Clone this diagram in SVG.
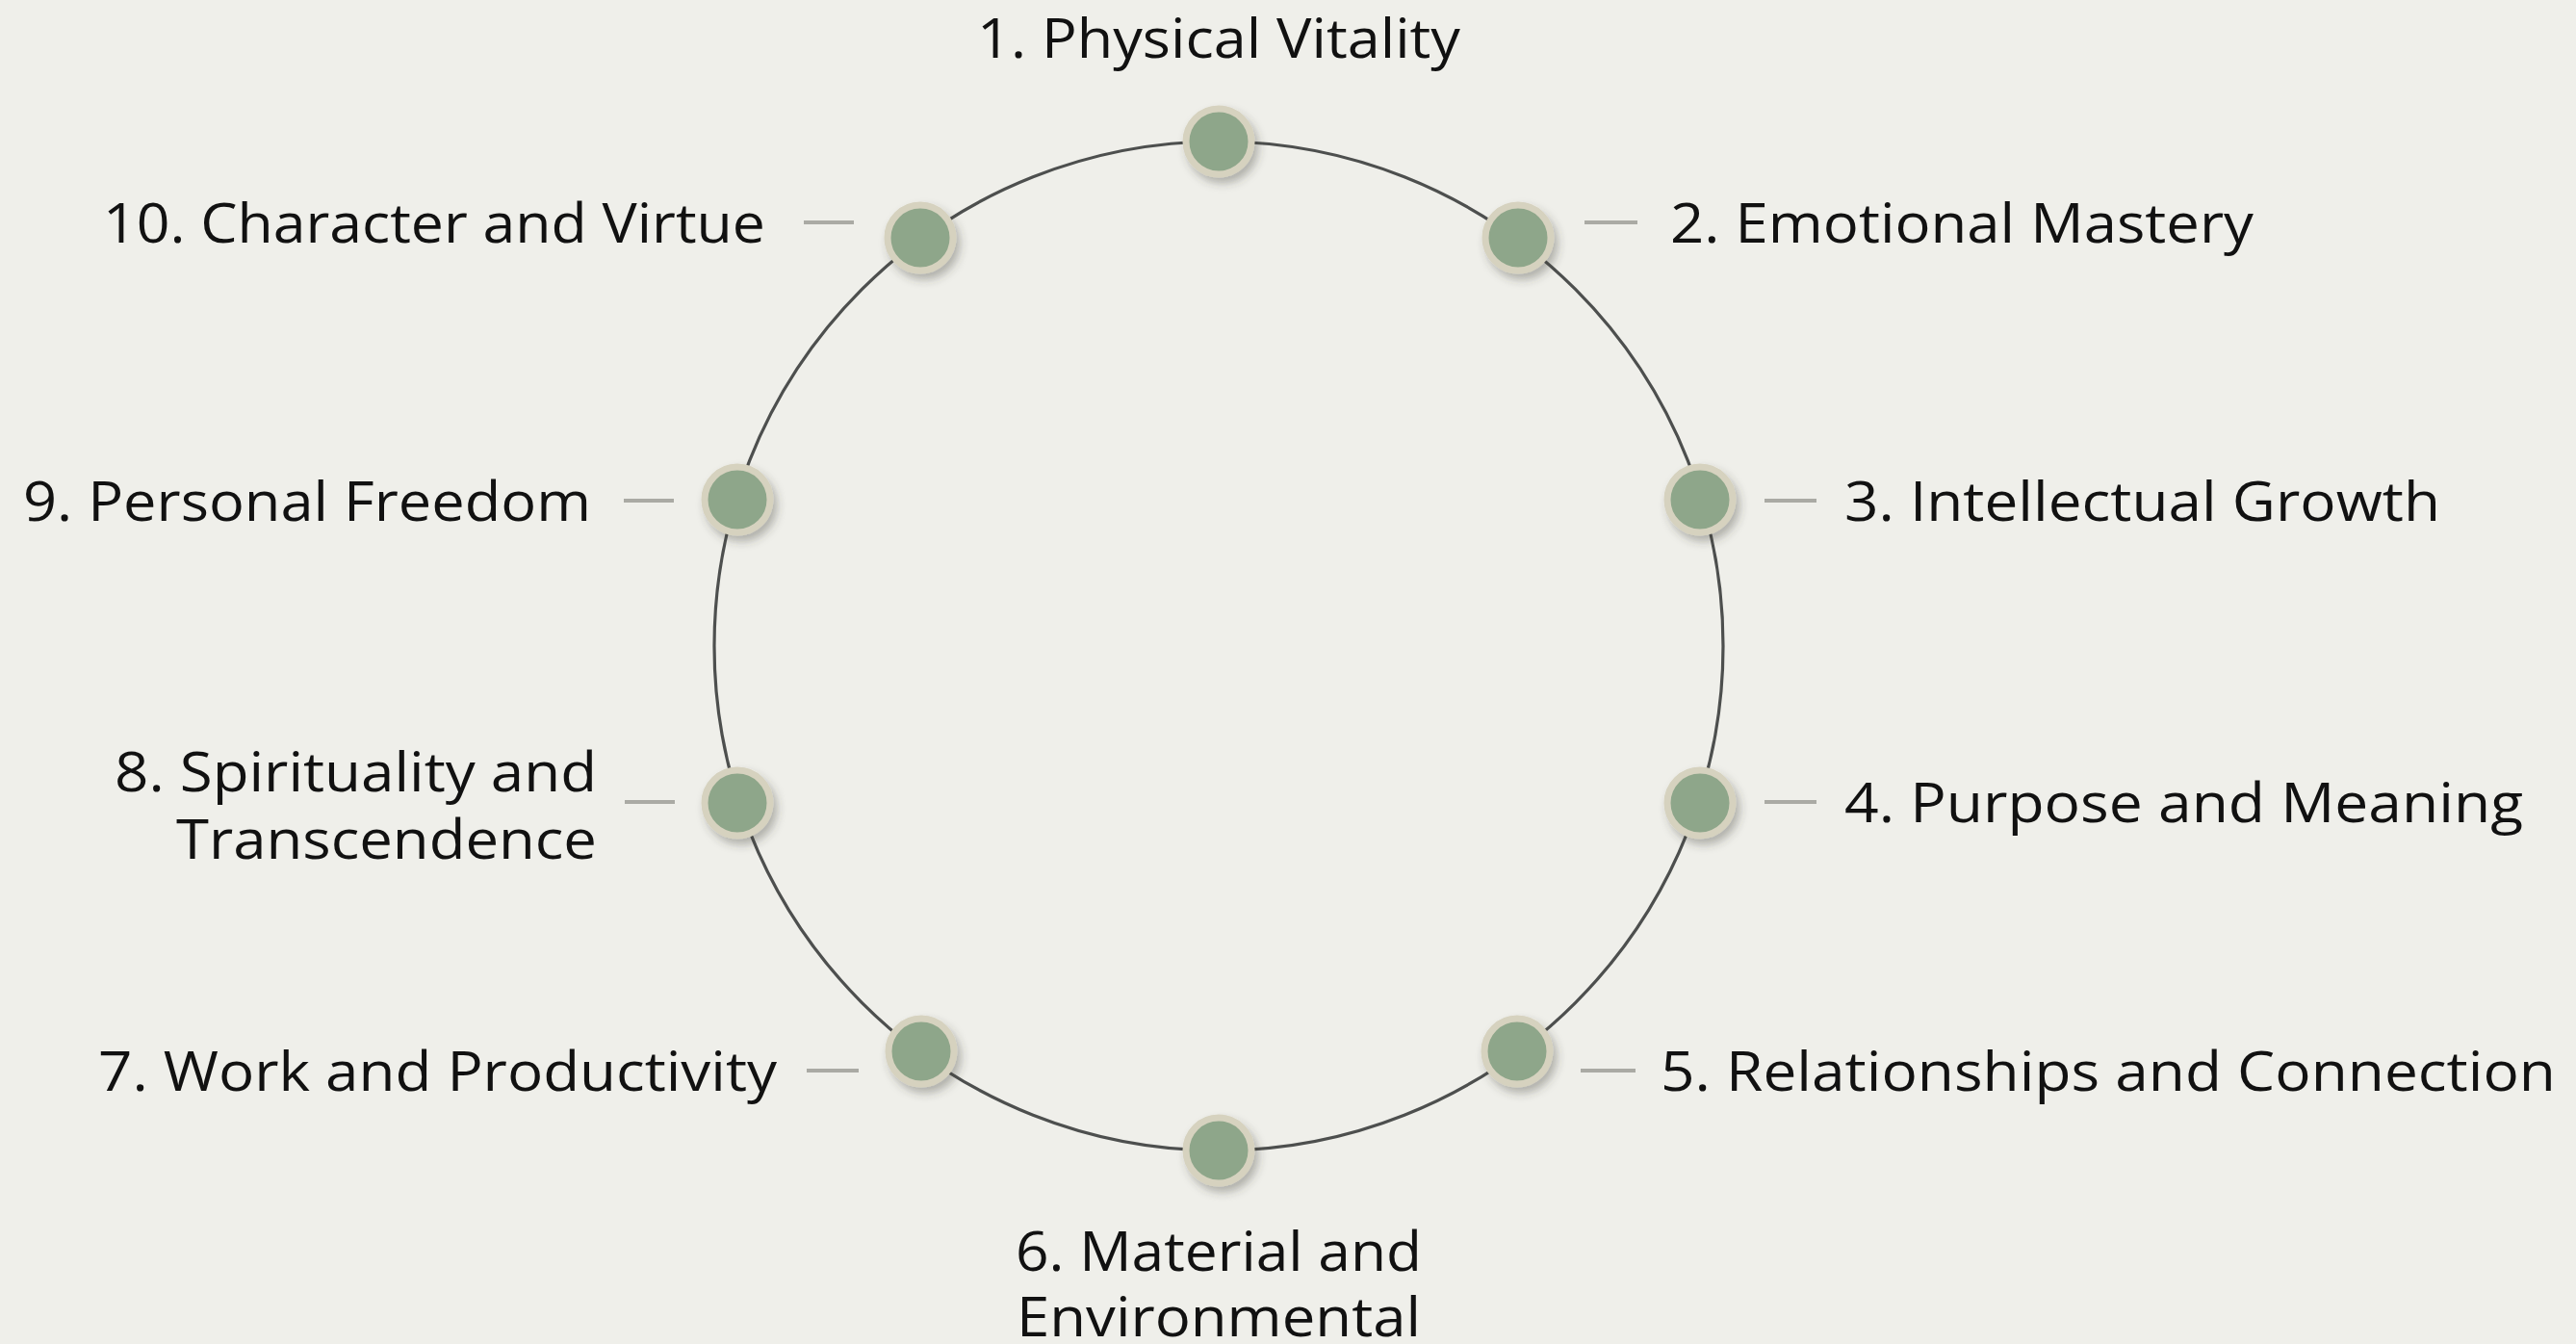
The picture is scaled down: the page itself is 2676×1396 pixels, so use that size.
<svg xmlns="http://www.w3.org/2000/svg" width="2676" height="1396" viewBox="0 0 2676 1396">
  <style>
    .lbl { font-family: "Open Sans", "Liberation Sans", sans-serif; font-size: 56px; font-weight: 500; fill: #111111; }
    .tick { stroke: #aaaaa4; stroke-width: 4; stroke-linecap: butt; }
    .ring { fill: none; stroke: #4d4f4e; stroke-width: 3.2; }
    .dot { fill: #8ea68a; stroke: #d6d2bf; stroke-width: 7; filter: url(#sh); }
  </style>
  <defs>
    <filter id="sh" x="-50%" y="-50%" width="200%" height="200%">
      <feDropShadow dx="4" dy="6" stdDeviation="5" flood-color="#3a3a30" flood-opacity="0.35"/>
    </filter>
  </defs>
  <rect x="0" y="0" width="2676" height="1396" fill="#efefea"/>

  <g id="connectors">
    <circle class="ring" cx="1266" cy="671" r="524"/>
    <line class="tick" x1="1646" y1="231" x2="1701" y2="231"/>
    <line class="tick" x1="1833" y1="520" x2="1887" y2="520"/>
    <line class="tick" x1="1833" y1="833" x2="1887" y2="833"/>
    <line class="tick" x1="1642" y1="1112" x2="1699" y2="1112"/>
    <line class="tick" x1="838" y1="1112" x2="892" y2="1112"/>
    <line class="tick" x1="649" y1="833" x2="701" y2="833"/>
    <line class="tick" x1="648" y1="520" x2="700" y2="520"/>
    <line class="tick" x1="835" y1="231" x2="887" y2="231"/>
  </g>

  <g id="n1">
    <circle class="dot" cx="1266" cy="147" r="34"/>
    <text class="lbl" x="1266" y="60" text-anchor="middle" textLength="502" lengthAdjust="spacingAndGlyphs">1. Physical Vitality</text>
  </g>
  <g id="n2">
    <circle class="dot" cx="1577" cy="247" r="34"/>
    <text class="lbl" x="1735" y="252" textLength="606" lengthAdjust="spacingAndGlyphs">2. Emotional Mastery</text>
  </g>
  <g id="n3">
    <circle class="dot" cx="1766" cy="519" r="34"/>
    <text class="lbl" x="1916" y="541" textLength="619" lengthAdjust="spacingAndGlyphs">3. Intellectual Growth</text>
  </g>
  <g id="n4">
    <circle class="dot" cx="1766" cy="834" r="34"/>
    <text class="lbl" x="1916" y="854" textLength="705" lengthAdjust="spacingAndGlyphs">4. Purpose and Meaning</text>
  </g>
  <g id="n5">
    <circle class="dot" cx="1576" cy="1092" r="34"/>
    <text class="lbl" x="1725" y="1133" textLength="930" lengthAdjust="spacingAndGlyphs">5. Relationships and Connection</text>
  </g>
  <g id="n6">
    <circle class="dot" cx="1266" cy="1195" r="34"/>
    <text class="lbl" x="1266" y="1320" text-anchor="middle" textLength="422" lengthAdjust="spacingAndGlyphs">6. Material and</text>
    <text class="lbl" x="1266" y="1388" text-anchor="middle" textLength="420" lengthAdjust="spacingAndGlyphs">Environmental</text>
  </g>
  <g id="n7">
    <circle class="dot" cx="957" cy="1092" r="34"/>
    <text class="lbl" x="807" y="1133" text-anchor="end" textLength="705" lengthAdjust="spacingAndGlyphs">7. Work and Productivity</text>
  </g>
  <g id="n8">
    <circle class="dot" cx="766" cy="834" r="34"/>
    <text class="lbl" x="620" y="822" text-anchor="end" textLength="501" lengthAdjust="spacingAndGlyphs">8. Spirituality and</text>
    <text class="lbl" x="620" y="892" text-anchor="end" textLength="437" lengthAdjust="spacingAndGlyphs">Transcendence</text>
  </g>
  <g id="n9">
    <circle class="dot" cx="766" cy="519" r="34"/>
    <text class="lbl" x="614" y="541" text-anchor="end" textLength="590" lengthAdjust="spacingAndGlyphs">9. Personal Freedom</text>
  </g>
  <g id="n10">
    <circle class="dot" cx="956" cy="247" r="34"/>
    <text class="lbl" x="795" y="252" text-anchor="end" textLength="688" lengthAdjust="spacingAndGlyphs">10. Character and Virtue</text>
  </g>
</svg>
